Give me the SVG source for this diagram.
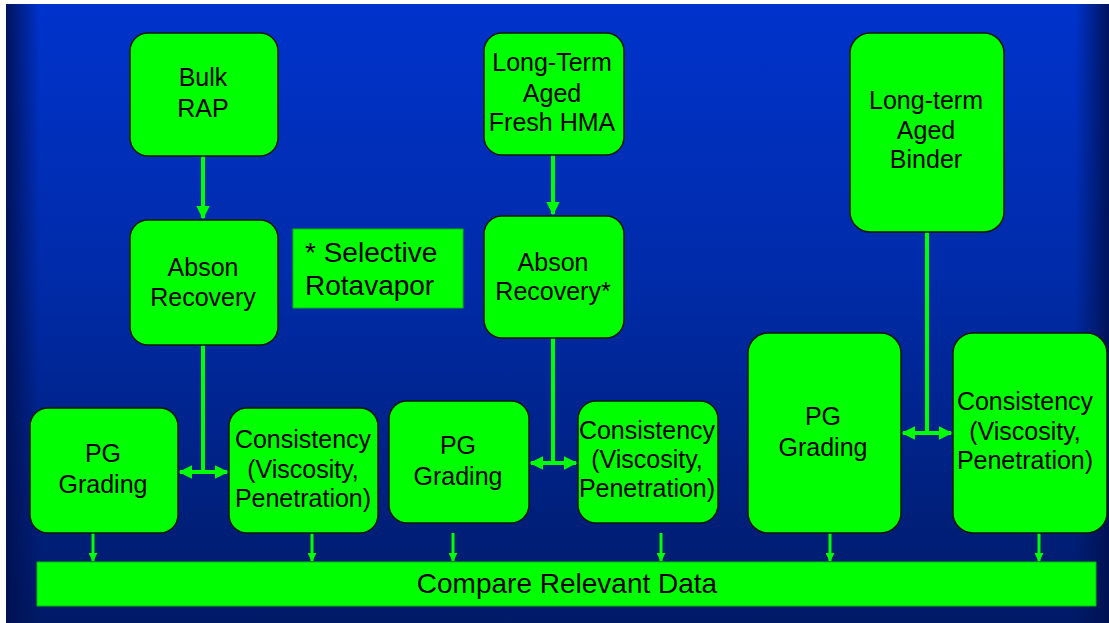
<svg xmlns="http://www.w3.org/2000/svg" width="1109" height="623" viewBox="0 0 1109 623">
<defs>
<linearGradient id="bgv" x1="0" y1="0" x2="0" y2="1">
<stop offset="0" stop-color="#0033cc"/>
<stop offset="0.45" stop-color="#002ba8"/>
<stop offset="1" stop-color="#001a66"/>
</linearGradient>
<linearGradient id="edgeL" x1="0" y1="0" x2="1" y2="0">
<stop offset="0" stop-color="#001050" stop-opacity="0.9"/>
<stop offset="1" stop-color="#001050" stop-opacity="0"/>
</linearGradient>
<linearGradient id="edgeR" x1="1" y1="0" x2="0" y2="0">
<stop offset="0" stop-color="#001050" stop-opacity="0.9"/>
<stop offset="1" stop-color="#001050" stop-opacity="0"/>
</linearGradient>
<marker id="ah" viewBox="0 0 10 10" refX="9" refY="5" markerWidth="3.4" markerHeight="3.4" orient="auto-start-reverse" markerUnits="strokeWidth">
<path d="M0,0 L10,5 L0,10 z" fill="#00ff00"/>
</marker>
<marker id="ahs" viewBox="0 0 10 10" refX="9" refY="5" markerWidth="3" markerHeight="3" orient="auto" markerUnits="strokeWidth">
<path d="M0,0 L10,5 L0,10 z" fill="#00ff00"/>
</marker>
</defs>
<style>
.box{fill:#00ff00;stroke:#0a1a0a;stroke-width:1.5}
.flat{fill:#00ff00;stroke:#00c000;stroke-width:1}
.t{font-family:"Liberation Sans",Arial,sans-serif;font-size:25px;fill:#000;text-anchor:middle}
.big{font-family:"Liberation Sans",Arial,sans-serif;font-size:28px;fill:#000}
.ln{stroke:#00ff00;stroke-width:4;fill:none}
.sm{stroke:#00ff00;stroke-width:3;fill:none}
</style>
<rect x="0" y="0" width="1109" height="623" fill="#ffffff"/>
<rect x="6" y="4" width="1103" height="619" fill="url(#bgv)"/>
<rect x="6" y="4" width="34" height="619" fill="url(#edgeL)"/>
<rect x="1075" y="4" width="34" height="619" fill="url(#edgeR)"/>

<g id="connectors">
<line class="ln" x1="203" y1="156" x2="203" y2="218" marker-end="url(#ah)"/>
<line class="ln" x1="553" y1="155" x2="553" y2="214" marker-end="url(#ah)"/>
<line class="ln" x1="203" y1="345" x2="203" y2="472"/>
<line class="ln" x1="180" y1="472" x2="227" y2="472" marker-start="url(#ah)" marker-end="url(#ah)"/>
<line class="ln" x1="553" y1="338" x2="553" y2="463"/>
<line class="ln" x1="531" y1="463" x2="576" y2="463" marker-start="url(#ah)" marker-end="url(#ah)"/>
<line class="ln" x1="927" y1="232" x2="927" y2="433"/>
<line class="ln" x1="903" y1="433" x2="951" y2="433" marker-start="url(#ah)" marker-end="url(#ah)"/>
<line class="sm" x1="93" y1="533" x2="93" y2="561" marker-end="url(#ahs)"/>
<line class="sm" x1="312" y1="533" x2="312" y2="561" marker-end="url(#ahs)"/>
<line class="sm" x1="453" y1="533" x2="453" y2="561" marker-end="url(#ahs)"/>
<line class="sm" x1="661" y1="533" x2="661" y2="561" marker-end="url(#ahs)"/>
<line class="sm" x1="830" y1="533" x2="830" y2="561" marker-end="url(#ahs)"/>
<line class="sm" x1="1039" y1="533" x2="1039" y2="561" marker-end="url(#ahs)"/>
</g>

<g id="bulk-rap">
<rect class="box" x="130" y="33" width="148" height="123" rx="18"/>
<text class="t" x="203" y="86">Bulk</text>
<text class="t" x="203" y="117">RAP</text>
</g>
<g id="abson-1">
<rect class="box" x="130" y="220" width="148" height="125" rx="18"/>
<text class="t" x="203" y="276">Abson</text>
<text class="t" x="203" y="306">Recovery</text>
</g>
<g id="selective-note">
<rect class="flat" x="293" y="229" width="170" height="79"/>
<text class="big" x="305" y="262">* Selective</text>
<text class="big" x="305" y="295">Rotavapor</text>
</g>
<g id="long-term-hma">
<rect class="box" x="484" y="33" width="140" height="122" rx="18"/>
<text class="t" x="552" y="71">Long-Term</text>
<text class="t" x="552" y="102">Aged</text>
<text class="t" x="552" y="131">Fresh HMA</text>
</g>
<g id="abson-2">
<rect class="box" x="484" y="216" width="140" height="122" rx="18"/>
<text class="t" x="553" y="271">Abson</text>
<text class="t" x="553" y="300">Recovery*</text>
</g>
<g id="long-term-binder">
<rect class="box" x="850" y="33" width="154" height="199" rx="20"/>
<text class="t" x="926" y="109">Long-term</text>
<text class="t" x="926" y="139">Aged</text>
<text class="t" x="926" y="168">Binder</text>
</g>
<g id="pg-1">
<rect class="box" x="30" y="408" width="148" height="125" rx="18"/>
<text class="t" x="103" y="462">PG</text>
<text class="t" x="103" y="493">Grading</text>
</g>
<g id="cons-1">
<rect class="box" x="229" y="408" width="149" height="125" rx="18"/>
<text class="t" x="303" y="448">Consistency</text>
<text class="t" x="303" y="478">(Viscosity,</text>
<text class="t" x="303" y="507">Penetration)</text>
</g>
<g id="pg-2">
<rect class="box" x="389" y="401" width="140" height="122" rx="18"/>
<text class="t" x="458" y="454">PG</text>
<text class="t" x="458" y="485">Grading</text>
</g>
<g id="cons-2">
<rect class="box" x="578" y="401" width="140" height="122" rx="18"/>
<text class="t" x="647" y="439">Consistency</text>
<text class="t" x="647" y="468">(Viscosity,</text>
<text class="t" x="647" y="497">Penetration)</text>
</g>
<g id="pg-3">
<rect class="box" x="748" y="333" width="153" height="200" rx="20"/>
<text class="t" x="823" y="425">PG</text>
<text class="t" x="823" y="456">Grading</text>
</g>
<g id="cons-3">
<rect class="box" x="953" y="333" width="154" height="200" rx="20"/>
<text class="t" x="1025" y="410">Consistency</text>
<text class="t" x="1025" y="440">(Viscosity,</text>
<text class="t" x="1025" y="469">Penetration)</text>
</g>
<g id="compare">
<rect class="flat" x="37" y="562" width="1059" height="44"/>
<text class="big" x="567" y="593" text-anchor="middle">Compare Relevant Data</text>
</g>
</svg>
